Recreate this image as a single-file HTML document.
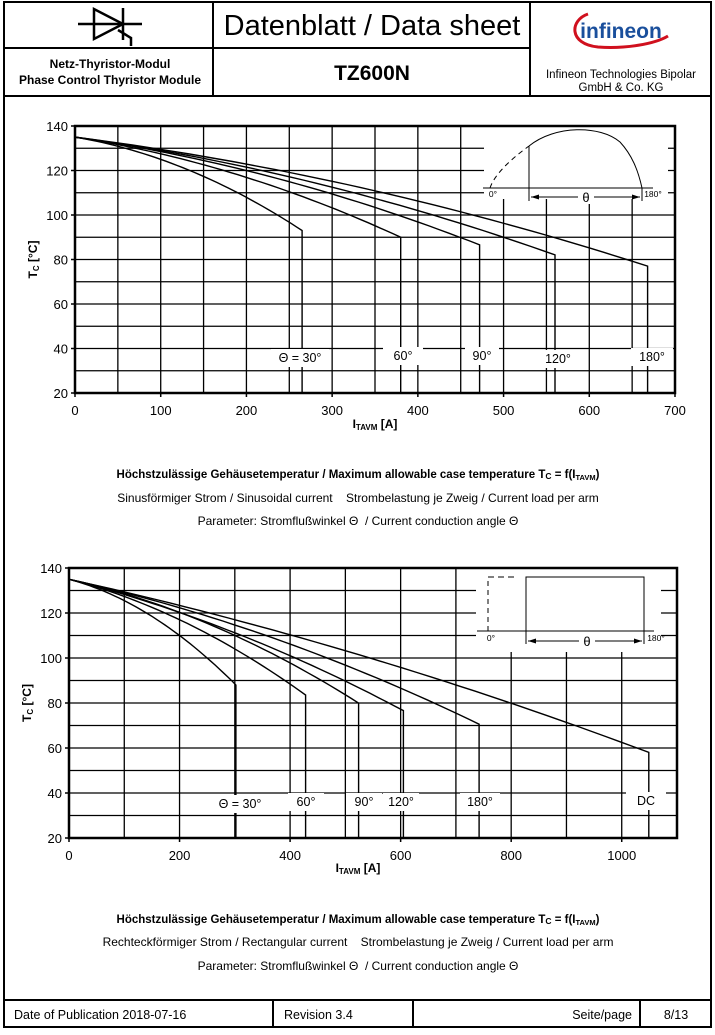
<!DOCTYPE html>
<html><head><meta charset="utf-8"><style>
body{margin:0;background:#fff;}
svg text{font-family:"Liberation Sans",Arial,sans-serif;fill:#000;white-space:pre;}
</style></head><body>
<svg id="s" width="715" height="1030" viewBox="0 0 715 1030" xmlns="http://www.w3.org/2000/svg">
<rect x="0" y="0" width="715" height="1030" fill="#fff"/>
<g stroke="#000" stroke-width="2" fill="none">
<rect x="4" y="2" width="707" height="1025"/>
<line x1="4" y1="48" x2="530" y2="48"/>
<line x1="4" y1="96" x2="711" y2="96"/>
<line x1="213" y1="2" x2="213" y2="96"/>
<line x1="530" y1="2" x2="530" y2="96"/>
<line x1="4" y1="1000" x2="711" y2="1000"/>
<line x1="273" y1="1000" x2="273" y2="1027"/>
<line x1="413" y1="1000" x2="413" y2="1027"/>
<line x1="640" y1="1000" x2="640" y2="1027"/>
</g>
<g stroke="#000" stroke-width="2.5" fill="none">
<line x1="78" y1="24" x2="142" y2="24"/>
<polygon points="94,9 94,39 123,24"/>
<line x1="123" y1="8" x2="123" y2="40"/>
<polyline points="118,30 131,38 131,46"/>
</g>
<text x="372" y="35" font-size="29" text-anchor="middle">Datenblatt / Data sheet</text>
<text x="110" y="68" font-size="12" font-weight="bold" text-anchor="middle">Netz-Thyristor-Modul</text>
<text x="110" y="84" font-size="12" font-weight="bold" text-anchor="middle">Phase Control Thyristor Module</text>
<text x="372" y="80" font-size="21" font-weight="bold" text-anchor="middle">TZ600N</text>
<path d="M588,14 C570,20 568,44 598,47 C625,49 655,44 668,36" stroke="#d0101e" stroke-width="3" fill="none"/>
<text x="621" y="38" font-size="21" text-anchor="middle" style="fill:#1a4f9c" font-weight="bold">infineon</text>
<text x="621" y="78" font-size="11.5" text-anchor="middle">Infineon Technologies Bipolar</text>
<text x="621" y="91" font-size="11.5" text-anchor="middle">GmbH &amp; Co. KG</text>
<g id="c1"></g><g id="c2"></g>
<text x="358" y="478" font-size="11.5" font-weight="bold" text-anchor="middle">Höchstzulässige Gehäusetemperatur / Maximum allowable case temperature T<tspan font-size="8.5" dy="1">C</tspan><tspan dy="-1"> = f(I</tspan><tspan font-size="7.5" dy="2">TAVM</tspan><tspan dy="-2">)</tspan></text>
<text x="358" y="502" font-size="12" text-anchor="middle">Sinusförmiger Strom / Sinusoidal current    Strombelastung je Zweig / Current load per arm</text>
<text x="358" y="525" font-size="12" text-anchor="middle">Parameter: Stromflußwinkel Θ  / Current conduction angle Θ</text>
<text x="358" y="923" font-size="11.5" font-weight="bold" text-anchor="middle">Höchstzulässige Gehäusetemperatur / Maximum allowable case temperature T<tspan font-size="8.5" dy="1">C</tspan><tspan dy="-1"> = f(I</tspan><tspan font-size="7.5" dy="2">TAVM</tspan><tspan dy="-2">)</tspan></text>
<text x="358" y="946" font-size="12" text-anchor="middle">Rechteckförmiger Strom / Rectangular current    Strombelastung je Zweig / Current load per arm</text>
<text x="358" y="970" font-size="12" text-anchor="middle">Parameter: Stromflußwinkel Θ  / Current conduction angle Θ</text>
<text x="14" y="1019" font-size="12.5">Date of Publication 2018-07-16</text>
<text x="284" y="1019" font-size="12.5">Revision 3.4</text>
<text x="632" y="1019" font-size="12.5" text-anchor="end">Seite/page</text>
<text x="676" y="1019" font-size="12.5" text-anchor="middle">8/13</text>
</svg>
<script>
function chart(id,cfg){
  var g=document.getElementById(id),h='';
  var X=function(i){return cfg.x0+i*cfg.sx;}, Y=function(t){return cfg.y0+(140-t)*cfg.sy;};
  var yb=Y(20), yt=Y(140), xr=X(cfg.xmax);
  for(var i=cfg.gx;i<cfg.xmax;i+=cfg.gx) h+='<line x1="'+X(i)+'" y1="'+yt+'" x2="'+X(i)+'" y2="'+yb+'" stroke="#000" stroke-width="1.3"/>';
  for(var t=30;t<140;t+=10) h+='<line x1="'+X(0)+'" y1="'+Y(t)+'" x2="'+xr+'" y2="'+Y(t)+'" stroke="#000" stroke-width="1.3"/>';
  h+='<rect x="'+cfg.ins[0]+'" y="'+(yt+1)+'" width="'+cfg.ins[1]+'" height="'+cfg.ins[2]+'" fill="#fff"/>';
  cfg.curves.forEach(function(c){
    var d='M'+X(0)+','+Y(135);
    for(var k=1;k<=40;k++){var I=c[0]*k/40;d+=' L'+X(I).toFixed(1)+','+Y(135-c[1]*I-c[2]*I*I).toFixed(1);}
    d+=' L'+X(c[0]).toFixed(1)+','+yb;
    h+='<path d="'+d+'" fill="none" stroke="#000" stroke-width="1.4"/>';
  });
  cfg.labels.forEach(function(l){
    h+='<rect x="'+(l[0]-l[2]/2)+'" y="'+(l[1]-13)+'" width="'+l[2]+'" height="18" fill="#fff"/>';
    h+='<text x="'+l[0]+'" y="'+l[1]+'" font-size="12.5" text-anchor="middle">'+l[3]+'</text>';
  });
  h+='<rect x="'+X(0)+'" y="'+yt+'" width="'+(xr-X(0))+'" height="'+(yb-yt)+'" fill="none" stroke="#000" stroke-width="2.5"/>';
  for(var t=20;t<=140;t+=20){h+='<line x1="'+(X(0)-4)+'" y1="'+Y(t)+'" x2="'+X(0)+'" y2="'+Y(t)+'" stroke="#000" stroke-width="1.5"/>';
    h+='<text x="'+(X(0)-7)+'" y="'+(Y(t)+5)+'" font-size="13" text-anchor="end">'+t+'</text>';}
  for(var i=0;i<=cfg.xmax;i+=cfg.lx){ if(i>cfg.lmax)break;
    h+='<line x1="'+X(i)+'" y1="'+yb+'" x2="'+X(i)+'" y2="'+(yb+4)+'" stroke="#000" stroke-width="1.5"/>';
    h+='<text x="'+X(i)+'" y="'+(yb+22)+'" font-size="13" text-anchor="middle">'+i+'</text>';}
  h+='<text x="'+cfg.xl[0]+'" y="'+cfg.xl[1]+'" font-size="12" font-weight="bold" text-anchor="middle">I<tspan font-size="8" dy="2">TAVM</tspan><tspan dy="-2"> [A]</tspan></text>';
  var yl=(yt+yb)/2, xl=X(0)-38;
  h+='<text transform="translate('+xl+','+yl+') rotate(-90)" font-size="12" font-weight="bold" text-anchor="middle">T<tspan font-size="8" dy="2">C</tspan><tspan dy="-2"> [°C]</tspan></text>';
  h+=cfg.extra;
  g.innerHTML=h;
}
chart('c1',{x0:75,sx:600/700,y0:126,sy:267/120,xmax:700,gx:50,lx:100,lmax:700,
 ins:[484,184,72],xl:[375,428],
 curves:[[265,0.0645,3.545e-4],[380,0.0595,1.55e-4],[472,0.0549,1.01e-4],[560,0.0525,7.5e-5],[668,0.0494,5.6e-5]],
 labels:[[300,362,58,'Θ = 30°'],[403,360,40,'60°'],[482,360,34,'90°'],[558,363,40,'120°'],[652,361,42,'180°']],
 extra:'<line x1="483" y1="188" x2="653" y2="188" stroke="#000" stroke-width="1"/>'+
 '<path d="M490,188 Q496,170 529,146" fill="none" stroke="#000" stroke-width="1" stroke-dasharray="5,4"/>'+
 '<path d="M529,146 C555,125 600,125 620,142 C632,155 638,170 642,188" fill="none" stroke="#000" stroke-width="1"/>'+
 '<line x1="529" y1="146" x2="529" y2="201" stroke="#000" stroke-width="1"/><line x1="642" y1="188" x2="642" y2="201" stroke="#000" stroke-width="1"/>'+
 '<line x1="531" y1="197" x2="640" y2="197" stroke="#000" stroke-width="1"/><polygon points="531,197 539,194.5 539,199.5"/><polygon points="640,197 632,194.5 632,199.5"/>'+
 '<rect x="578" y="190" width="16" height="14" fill="#fff"/><text x="586" y="202" font-size="13" text-anchor="middle">θ</text>'+
 '<text x="493" y="197" font-size="8.5" text-anchor="middle">0°</text><text x="653" y="197" font-size="8.5" text-anchor="middle">180°</text>'
});
chart('c2',{x0:69,sx:608/1100,y0:568,sy:270/120,xmax:1100,gx:100,lx:200,lmax:1000,
 ins:[476,185,83],xl:[358,872],
 curves:[[302,0.065,3.0e-4],[428,0.0633,1.33e-4],[524,0.0542,9.7e-5],[605,0.0624,5.64e-5],[742,0.0547,4.33e-5],[1049,0.0545,1.8e-5]],
 labels:[[240,808,62,'Θ = 30°'],[306,806,36,'60°'],[364,806,36,'90°'],[401,806,36,'120°'],[480,806,40,'180°'],[646,805,40,'DC']],
 extra:'<line x1="477" y1="631" x2="654" y2="631" stroke="#000" stroke-width="1"/>'+
 '<line x1="488" y1="631" x2="488" y2="577" stroke="#000" stroke-width="1" stroke-dasharray="5,4"/><line x1="488" y1="577" x2="517" y2="577" stroke="#000" stroke-width="1" stroke-dasharray="6,4"/>'+
 '<polyline points="526,644 526,577 644,577 644,644" fill="none" stroke="#000" stroke-width="1"/>'+
 '<line x1="528" y1="641" x2="642" y2="641" stroke="#000" stroke-width="1"/><polygon points="528,641 536,638.5 536,643.5"/><polygon points="642,641 634,638.5 634,643.5"/>'+
 '<rect x="579" y="634" width="16" height="14" fill="#fff"/><text x="587" y="646" font-size="13" text-anchor="middle">θ</text>'+
 '<text x="491" y="641" font-size="8.5" text-anchor="middle">0°</text><text x="656" y="641" font-size="8.5" text-anchor="middle">180°</text>'
});
</script>
</body></html>
